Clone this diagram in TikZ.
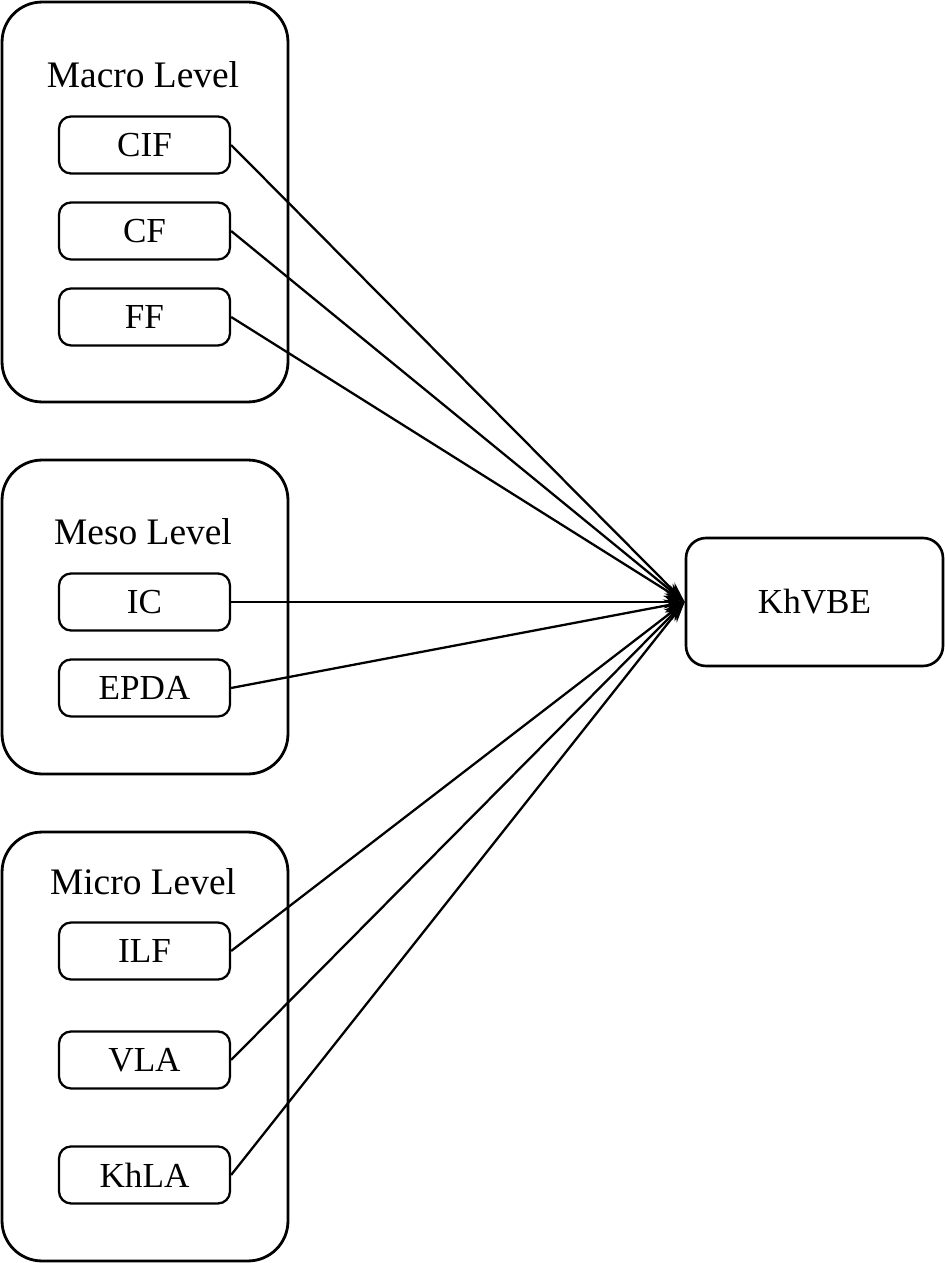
\documentclass[tikz,border=0pt]{standalone}
\usepackage{fontspec}
\setmainfont{Liberation Serif}
\usetikzlibrary{positioning,arrows.meta}

\begin{document}
\begin{tikzpicture}[x=0.02cm,y=-0.02cm]
\useasboundingbox (0,0) rectangle (945,1263);
% Draw level groups and factors
   \begin{scope}[ node distance=1.72cm,on grid,>={Stealth[length=0.42cm,width=0.26cm]},
                   level/.style={rectangle,draw,line width=1.6pt,rounded corners=0.8cm,minimum width=5.72cm},
                   factor/.style={rectangle,draw,line width=1.3pt,rounded corners=0.24cm,minimum width=3.42cm,minimum height=1.14cm,font=\fontsize{20}{24}\selectfont},
                   title/.style={font=\fontsize{21.3}{25}\selectfont} ]
     \node [level,minimum height=8cm]    (macro) at (145,202)    {};
     \node [level,minimum height=6.28cm] (meso)  at (145,617)    {};
     \node [level,minimum height=8.58cm] (micro) at (145,1046.5) {};
     \node [title] (macrot) at (143,75)  {Macro Level};
     \node [title] (mesot)  at (143,532) {Meso Level};
     \node [title] (microt) at (143,882) {Micro Level};
     \node [factor,line width=1.5pt,minimum width=5.14cm,minimum height=2.56cm,rounded corners=0.4cm] (khvbe) at (814.5,602) {KhVBE};
     \node [factor] (cif)  at (144.5,145)  {CIF};
     \node [factor] (cf)   [below=of cif]  {CF};
     \node [factor] (ff)   [below=of cf]   {FF};
     \node [factor] (ic)   at (144.5,602)  {IC};
     \node [factor] (epda) [below=of ic]   {EPDA};
     \node [factor] (ilf)  at (144.5,951)  {ILF};
     \node [factor] (vla)  [below=2.18cm of ilf] {VLA};
     \node [factor] (khla) [below=2.3cm of vla]  {KhLA};
     \foreach \f in {cif,cf,ff,ic,epda,ilf,vla,khla}
       \draw [->,line width=1.3pt] (\f.east) -- (khvbe.west);
   \end{scope}
\end{tikzpicture}
\end{document}
